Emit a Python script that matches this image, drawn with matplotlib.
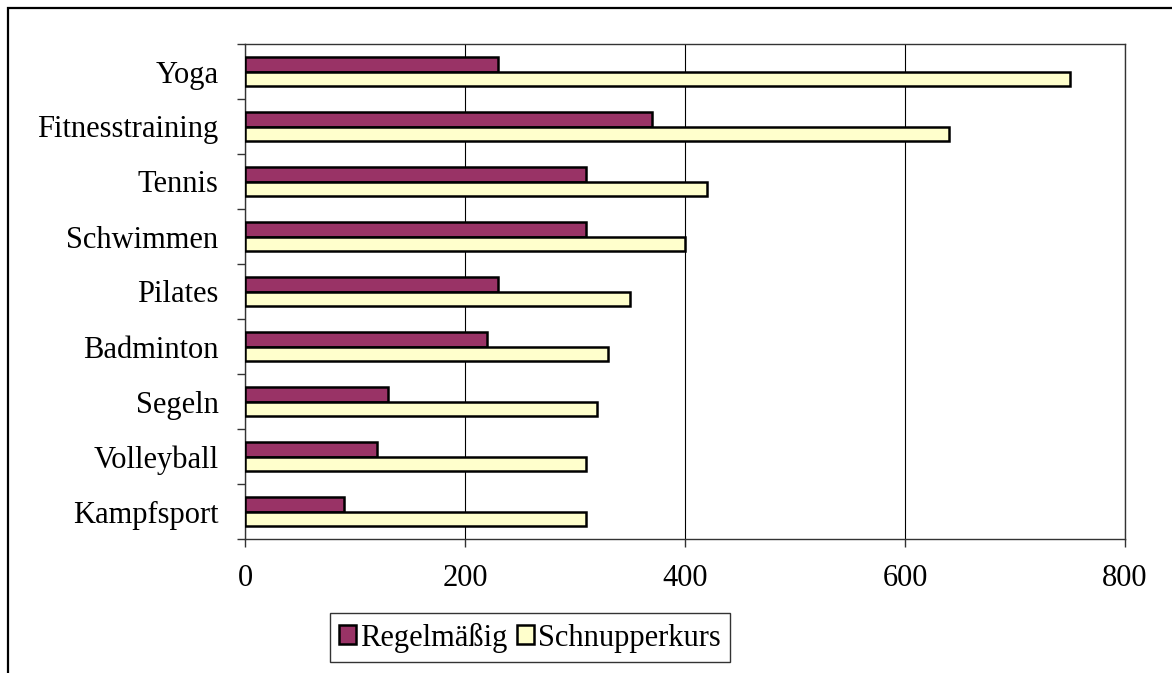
import matplotlib
matplotlib.use("Agg")
import matplotlib.pyplot as plt
from matplotlib.patches import Rectangle
import numpy as np

categories = ["Yoga", "Fitnesstraining", "Tennis", "Schwimmen", "Pilates",
              "Badminton", "Segeln", "Volleyball", "Kampfsport"]
regelmaessig = [230, 370, 310, 310, 230, 220, 130, 120, 90]
schnupperkurs = [750, 640, 420, 400, 350, 330, 320, 310, 310]
series_names = ["Regelmäßig", "Schnupperkurs"]
x_ticks = [0, 200, 400, 600, 800]

plt.rcParams["font.family"] = ["Liberation Serif", "DejaVu Serif"]
FS = 22

W, H = 1172, 673
fig = plt.figure(figsize=(W / 100, H / 100), dpi=100)

# outer chart frame (top and left edges visible)
fig.patches.append(Rectangle((8 / W, -0.1), 1.2, 1 - 8 / H + 0.1,
                             transform=fig.transFigure, fill=False,
                             edgecolor="black", linewidth=1.6))

ax = fig.add_axes([245 / W, 1 - 539 / H, (1125 - 245) / W, (539 - 44) / H])

n = len(categories)
y = np.arange(n)[::-1].astype(float)
h = 0.27
ax.barh(y + h / 2, regelmaessig, height=h, color="#993366",
        edgecolor="black", linewidth=1.8, label=series_names[0], zorder=3)
ax.barh(y - h / 2, schnupperkurs, height=h, color="#FFFFCC",
        edgecolor="black", linewidth=1.8, label=series_names[1], zorder=3)

ax.set_xlim(0, 800)
ax.set_ylim(-0.5, n - 0.5)
ax.set_xticks(x_ticks)
ax.set_xticklabels([str(v) for v in x_ticks], fontsize=FS)
ax.set_yticks(y)
ax.set_yticklabels(categories, fontsize=FS)
ax.set_yticks(np.arange(n + 1) - 0.5, minor=True)

ax.tick_params(axis="y", which="major", length=0, pad=19)
ax.tick_params(axis="y", which="minor", length=6, width=1, direction="out",
               color="#333333")
ax.tick_params(axis="x", which="major", length=6, width=1, direction="out",
               pad=12, color="#333333")

ax.grid(axis="x", color="black", linewidth=0.8, zorder=0)
for side in ["top", "right", "bottom", "left"]:
    ax.spines[side].set_color("#333333")
    ax.spines[side].set_linewidth(1.0)

leg = fig.legend(loc="center", bbox_to_anchor=(530 / W, 1 - 637.5 / H),
                 ncol=2, fontsize=FS, frameon=True, fancybox=False,
                 handlelength=0.55, handleheight=0.55, handletextpad=0.15,
                 columnspacing=0.3, borderpad=0.3, borderaxespad=0)
leg.get_frame().set_edgecolor("black")
leg.get_frame().set_linewidth(1.0)

fig.savefig("out.png", dpi=100)
